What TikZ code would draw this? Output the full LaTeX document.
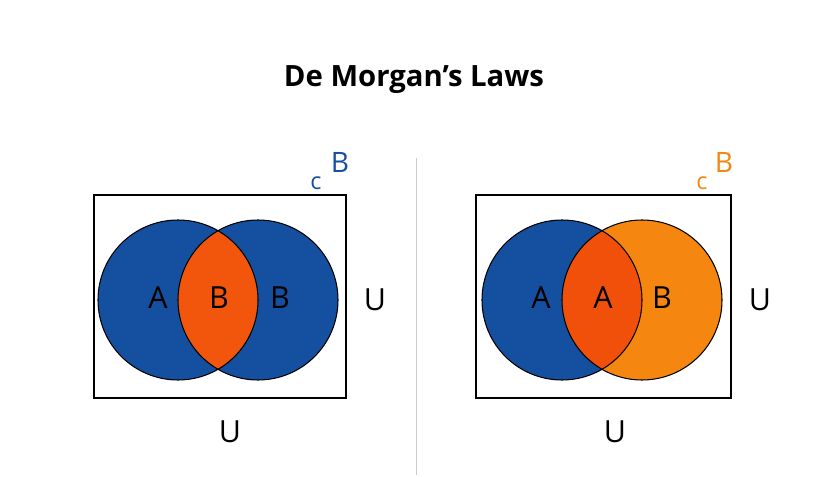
\documentclass[tikz,border=0pt]{standalone}
\usepackage{fontspec}
\setmainfont{Open Sans}
\definecolor{bl}{HTML}{1550A0}
\definecolor{orl}{HTML}{F2560C}
\definecolor{orr}{HTML}{F5860F}
\definecolor{orx}{HTML}{F0500A}
\begin{document}
\begin{tikzpicture}[x=0.03cm,y=-0.03cm,
 lbl/.style={font=\fontsize{26}{28}\selectfont},
 circ/.style={draw=black,line width=0.9pt}]
\useasboundingbox (0,0) rectangle (833,477);
\node[font=\bfseries\fontsize{25}{28}\selectfont] (title) at (414,80) {De Morgan's Laws};
\draw[gray!40,line width=0.8pt] (416,158) coordinate (d1) -- (416,475) coordinate (d2);
% left
\draw[line width=0.9pt] (94,195) rectangle (346,398);
\fill[bl] (178,300) circle (80);
\fill[bl] (258,300) circle (80);
\begin{scope}\clip (178,300) circle (80); \fill[orl] (258,300) circle (80);\end{scope}
\draw[circ] (178,300) circle (80);
\draw[circ] (258,300) circle (80);
\node[lbl] (la) at (158,298) {A};
\node[lbl] (lb1) at (219,298) {B};
\node[lbl] (lb2) at (280,298) {B};
\node[lbl] (lu1) at (375,300) {U};
\node[lbl] (lu2) at (230,432) {U};
\node[lbl,text=bl,font=\fontsize{20}{22}\selectfont] (lc) at (316,183) {c};
\node[lbl,text=bl,font=\fontsize{24}{26}\selectfont] (lB) at (340,162) {B};
% right
\draw[line width=0.9pt] (476,195) rectangle (731,398);
\fill[bl] (562,300) circle (80);
\fill[orr] (642,300) circle (80);
\begin{scope}\clip (562,300) circle (80); \fill[orx] (642,300) circle (80);\end{scope}
\draw[circ] (562,300) circle (80);
\draw[circ] (642,300) circle (80);
\node[lbl] (ra) at (541,298) {A};
\node[lbl] (ra2) at (603,298) {A};
\node[lbl] (rb) at (662,298) {B};
\node[lbl] (ru1) at (760,300) {U};
\node[lbl] (ru2) at (615,432) {U};
\node[lbl,text=orr,font=\fontsize{20}{22}\selectfont] (rc) at (702,183) {c};
\node[lbl,text=orr,font=\fontsize{24}{26}\selectfont] (rB) at (724,162) {B};
\end{tikzpicture}
\end{document}
